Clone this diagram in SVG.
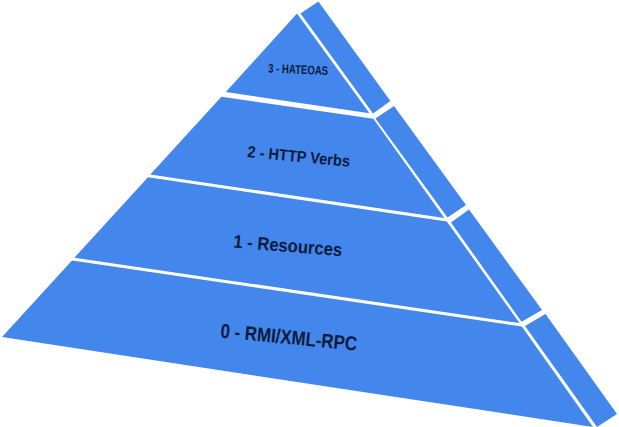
<svg xmlns="http://www.w3.org/2000/svg" width="619" height="427" viewBox="0 0 619 427">
<style>
.face{fill:#4387ec}
.lbl{fill:#0c1a3c;font-family:"Liberation Sans Narrow","Liberation Sans",sans-serif;font-weight:bold}
</style>
<rect width="619" height="427" fill="#ffffff"/>
<g id="layer3">
<polygon class="face" points="297,13.5 225.8,92 369.5,113.2"/>
<polygon class="face" points="300.5,13.5 318.4,1.5 390.4,101 373,113.5"/>
<text class="lbl" x="268" y="72.5" font-size="12.5" textLength="60" lengthAdjust="spacingAndGlyphs" transform="rotate(2.4 268 72.5)">3 - HATEOAS</text>
</g>
<g id="layer2">
<polygon class="face" points="221.4,96.8 373.4,118.7 444.4,218 150.3,174.5"/>
<polygon class="face" points="375.5,118.5 394,106 466,205 447.5,217.5"/>
<text class="lbl" x="247" y="157" font-size="16" textLength="103" lengthAdjust="spacingAndGlyphs" transform="rotate(5.5 247 157)">2 - HTTP Verbs</text>
</g>
<g id="layer1">
<polygon class="face" points="148,177.2 446.8,221.4 519.5,323.1 74.4,257.7"/>
<polygon class="face" points="451,222.5 469,209.5 542,310 521.5,321.8"/>
<text class="lbl" x="233" y="247.5" font-size="18.3" textLength="109" lengthAdjust="spacingAndGlyphs" transform="rotate(4.6 233 247.5)">1 - Resources</text>
</g>
<g id="layer0">
<polygon class="face" points="72,260.4 521.8,326.5 593,427 2,337"/>
<polygon class="face" points="525,326 545.5,314 617,414 597,427"/>
<text class="lbl" x="220" y="337.5" font-size="20" textLength="137" lengthAdjust="spacingAndGlyphs" transform="rotate(5.5 220 337.5)">0 - RMI/XML-RPC</text>
</g>
</svg>
